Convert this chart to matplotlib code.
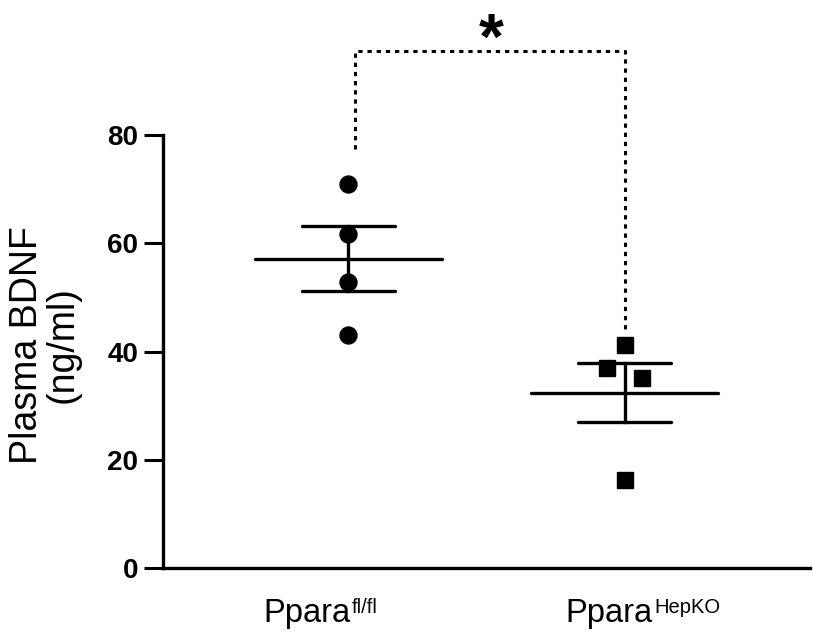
import numpy as np
import matplotlib
matplotlib.use('Agg')
import matplotlib.pyplot as plt

plt.rcParams['font.family'] = ['Liberation Sans', 'DejaVu Sans']

# data
group_names = ['Ppara', 'Ppara']
group_sups = ['fl/fl', 'HepKO']
ctrl_vals = [71.0, 61.7, 52.9, 43.1]
ko_vals = [41.2, 37.0, 35.1, 16.3]
ko_offsets = [0.0, -0.063, 0.063, 0.0]
y_ticks = [0, 20, 40, 60, 80]
bracket_top = 95.6
bracket_ends = [77.5, 44.0]
sig_label = '*'

fig = plt.figure(figsize=(8.13, 6.33), dpi=100)
ax = fig.add_axes([163 / 813, 65 / 633, 647 / 813, 433 / 633])
ax.set_xlim(-0.672, 1.672)
ax.set_ylim(0, 80)

ax.plot(np.zeros(len(ctrl_vals)), ctrl_vals, 'o', ms=12.2, color='black', clip_on=False, zorder=3)
ax.plot(1 + np.array(ko_offsets), ko_vals, 's', ms=12.2, color='black', clip_on=False, zorder=3)

for x, vals in [(0, ctrl_vals), (1, ko_vals)]:
    v = np.array(vals)
    m = v.mean()
    sem = v.std(ddof=1) / np.sqrt(len(v))
    ax.plot([x - 0.337, x + 0.337], [m, m], color='black', lw=2.4, solid_capstyle='round', zorder=4)
    for yy in (m - sem, m + sem):
        ax.plot([x - 0.17, x + 0.17], [yy, yy], color='black', lw=2.4, solid_capstyle='round', zorder=4)
    ax.plot([x, x], [m - sem, m + sem], color='black', lw=2.4, zorder=4)

# significance bracket
ax.plot([0.023, 0.023, 1.0, 1.0], [bracket_ends[0], bracket_top, bracket_top, bracket_ends[1]],
        color='black', lw=2.2, ls=(0, (1.4, 1.6)), dash_capstyle='butt', clip_on=False)
ax.text(0.518, 94.1, sig_label, ha='center', va='baseline', fontsize=46, fontweight='bold', clip_on=False)

for s in ['top', 'right']:
    ax.spines[s].set_visible(False)
for s in ['left', 'bottom']:
    ax.spines[s].set_linewidth(2.4)

ax.set_yticks(y_ticks)
ax.set_xticks([])
ax.tick_params(axis='y', length=14, width=2.2, pad=4, labelsize=20)
for lab in ax.get_yticklabels():
    lab.set_fontweight('bold')

fig.text(45 / 813, 288 / 633, 'Plasma BDNF\n(ng/ml)', rotation=90, ha='center', va='center',
         fontsize=27, linespacing=1.0, multialignment='center')

# x labels with superscripts
fig.canvas.draw()
for left_px, name, sup in zip([263, 565], group_names, group_sups):
    t = fig.text(left_px / 813, 11 / 633, name, ha='left', va='baseline', fontsize=23.5)
    fig.canvas.draw()
    bb = t.get_window_extent()
    fig.text((bb.x1 + 2) / 813, 20 / 633, sup, ha='left', va='baseline', fontsize=14.5)

fig.savefig('out.png', dpi=100)
